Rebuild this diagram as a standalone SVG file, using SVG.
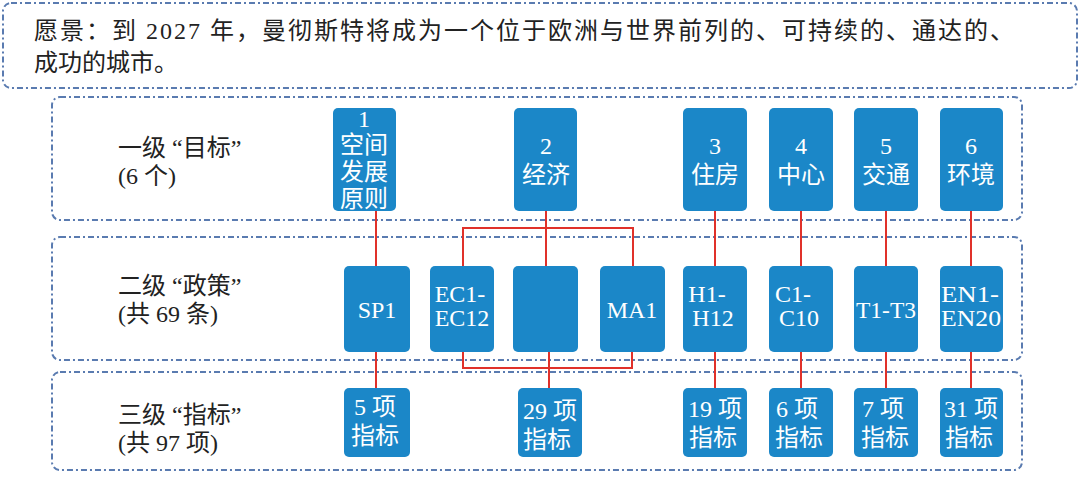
<svg xmlns="http://www.w3.org/2000/svg" width="1080" height="479" viewBox="0 0 1080 479">
<style>
.frame{fill:none;stroke:#5a7bb0;stroke-width:2;stroke-dasharray:6 3 2 3}
.n{fill:#1b87c8}
.t{fill:#fff;font-family:"Liberation Serif","Noto Sans CJK SC",serif;font-size:24px;text-anchor:middle}
.lbl{fill:#222;font-family:"Liberation Serif","Noto Sans CJK SC",serif;font-size:24px}
.c{fill:none;stroke:#e0312a;stroke-width:2}
</style>
<rect width="1080" height="479" fill="#fff"/>
<g id="frames">
<rect class="frame" x="3" y="3" width="1074" height="85" rx="8"/>
<rect class="frame" x="52" y="97" width="970" height="123" rx="8"/>
<rect class="frame" x="52" y="237" width="970" height="123" rx="8"/>
<rect class="frame" x="52" y="372" width="970" height="98" rx="8"/>
</g>
<g id="vision"><text class="lbl" x="34" y="39" font-size="25" textLength="980" lengthAdjust="spacing">愿景：到 2027 年，曼彻斯特将成为一个位于欧洲与世界前列的、可持续的、通达的、</text><text class="lbl" x="34" y="71" font-size="25">成功的城市。</text></g>
<g id="labels">
<text class="lbl" x="118" y="156">一级 “目标”</text><text class="lbl" x="118" y="184">(6 个)</text>
<text class="lbl" x="118" y="294">二级 “政策”</text><text class="lbl" x="118" y="322">(共 69 条)</text>
<text class="lbl" x="118" y="423">三级 “指标”</text><text class="lbl" x="118" y="451">(共 97 项)</text>
</g>
<g id="connectors">
<path class="c" d="M376 211V266M376 352V388M546 211V266M463 266V228H633V266M463 352V368H632V352M549 352V388M715 211V266M715 352V388M801 211V266M801 352V388M886 211V266M886 352V388M971 211V266M971 352V388"/>
</g>
<g id="g1"><rect class="n" x="333" y="108" width="63" height="103" rx="5"/><text class="t" x="364" y="127">1</text><text class="t" x="364" y="153">空间</text><text class="t" x="364" y="180">发展</text><text class="t" x="364" y="207">原则</text></g>
<g id="g2"><rect class="n" x="514" y="108" width="63" height="103" rx="5"/><text class="t" x="546" y="154">2</text><text class="t" x="546" y="183">经济</text></g>
<g id="g3"><rect class="n" x="683" y="108" width="64" height="103" rx="5"/><text class="t" x="715" y="154">3</text><text class="t" x="715" y="183">住房</text></g>
<g id="g4"><rect class="n" x="769" y="108" width="64" height="103" rx="5"/><text class="t" x="801" y="154">4</text><text class="t" x="801" y="183">中心</text></g>
<g id="g5"><rect class="n" x="854" y="108" width="64" height="103" rx="5"/><text class="t" x="886" y="154">5</text><text class="t" x="886" y="183">交通</text></g>
<g id="g6"><rect class="n" x="940" y="108" width="63" height="103" rx="5"/><text class="t" x="971" y="154">6</text><text class="t" x="971" y="183">环境</text></g>
<g id="sp"><rect class="n" x="344" y="266" width="66" height="86" rx="5"/><text class="t" x="377" y="318">SP1</text></g>
<g id="ec"><rect class="n" x="430" y="266" width="64" height="86" rx="5"/><text class="t" x="460" y="302">EC1-</text><text class="t" x="462" y="326">EC12</text></g>
<g id="blank"><rect class="n" x="513" y="266" width="65" height="86" rx="5"/></g>
<g id="ma"><rect class="n" x="600" y="266" width="65" height="86" rx="5"/><text class="t" x="632" y="318">MA1</text></g>
<g id="h"><rect class="n" x="683" y="266" width="64" height="86" rx="5"/><text class="t" x="707" y="302">H1-</text><text class="t" x="713" y="326">H12</text></g>
<g id="cc"><rect class="n" x="769" y="266" width="64" height="86" rx="5"/><text class="t" x="793" y="302">C1-</text><text class="t" x="799" y="326">C10</text></g>
<g id="tt"><rect class="n" x="854" y="266" width="64" height="86" rx="5"/><text class="t" x="886" y="318" textLength="60" lengthAdjust="spacingAndGlyphs">T1-T3</text></g>
<g id="en"><rect class="n" x="940" y="266" width="63" height="86" rx="5"/><text class="t" x="970" y="302" textLength="58" lengthAdjust="spacingAndGlyphs">EN1-</text><text class="t" x="971" y="326" textLength="60" lengthAdjust="spacingAndGlyphs">EN20</text></g>
<g id="i1"><rect class="n" x="344" y="388" width="66" height="69" rx="5"/><text class="t" x="375" y="415">5 项</text><text class="t" x="375" y="444">指标</text></g>
<g id="i2"><rect class="n" x="518" y="388" width="64" height="69" rx="5"/><text class="t" x="550" y="419">29 项</text><text class="t" x="547" y="448">指标</text></g>
<g id="i3"><rect class="n" x="683" y="388" width="64" height="69" rx="5"/><text class="t" x="715" y="417">19 项</text><text class="t" x="713" y="446">指标</text></g>
<g id="i4"><rect class="n" x="769" y="388" width="64" height="69" rx="5"/><text class="t" x="797" y="417">6 项</text><text class="t" x="799" y="446">指标</text></g>
<g id="i5"><rect class="n" x="854" y="388" width="64" height="69" rx="5"/><text class="t" x="883" y="417">7 项</text><text class="t" x="885" y="446">指标</text></g>
<g id="i6"><rect class="n" x="940" y="388" width="63" height="69" rx="5"/><text class="t" x="971" y="417">31 项</text><text class="t" x="969" y="446">指标</text></g>
</svg>
